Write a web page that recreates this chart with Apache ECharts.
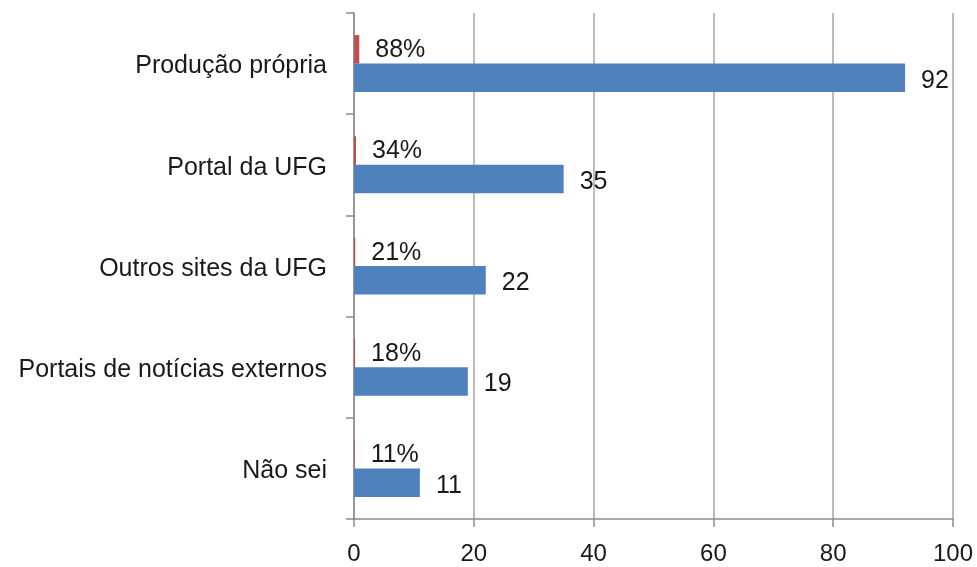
<!DOCTYPE html>
<html>
<head>
<meta charset="utf-8">
<script src="https://cdn.jsdelivr.net/npm/echarts@6/dist/echarts.min.js"></script>
<style>
  html, body { margin: 0; padding: 0; background: #fff; }
  #main { width: 977px; height: 567px; }
</style>
</head>
<body>
<div id="main"></div>
<script>
const categories = ['Produção própria', 'Portal da UFG', 'Outros sites da UFG', 'Portais de notícias externos', 'Não sei']
const shareValues = [0.88, 0.34, 0.21, 0.18, 0.11]
const shareLabels = ['88%', '34%', '21%', '18%', '11%']
const countValues = [92, 35, 22, 19, 11]

const chart = echarts.init(document.getElementById('main'))
const font = 'Liberation Sans, Arial, sans-serif'

chart.setOption({
  animation: false,
  grid: { left: 354, right: 24, top: 13, bottom: 48 },
  xAxis: {
    type: 'value',
    min: 0,
    max: 100,
    interval: 20,
    axisLine: { show: true, lineStyle: { color: '#8c8c8c', width: 1.5 } },
    axisTick: { show: true, length: 8, lineStyle: { color: '#8c8c8c', width: 1.5 } },
    axisLabel: { color: '#1a1a1a', fontSize: 24, fontFamily: font, margin: 23 },
    splitLine: { show: true, lineStyle: { color: '#a6a6a6', width: 1.5 } }
  },
  yAxis: {
    type: 'category',
    data: categories,
    inverse: true,
    axisLine: { show: true, lineStyle: { color: '#8c8c8c', width: 1.5 } },
    axisTick: { show: true, length: 8, lineStyle: { color: '#8c8c8c', width: 1.5 } },
    axisLabel: {
      margin: 27,
      formatter: v => '{c|' + v + '}',
      rich: { c: { color: '#1a1a1a', fontSize: 25, fontFamily: font, padding: [6, 0, 0, 0] } }
    }
  },
  series: [
    {
      type: 'bar',
      data: shareValues,
      barWidth: 28.5,
      barGap: '0%',
      itemStyle: { color: '#c0504d' },
      label: {
        show: true,
        position: 'right',
        distance: 16,
        offset: [0, 1],
        color: '#1a1a1a',
        fontSize: 25,
        fontFamily: font,
        formatter: p => shareLabels[p.dataIndex]
      }
    },
    {
      type: 'bar',
      data: countValues,
      barWidth: 28.5,
      barGap: '0%',
      itemStyle: { color: '#4f81bd' },
      label: {
        show: true,
        position: 'right',
        distance: 16,
        offset: [0, 3],
        color: '#1a1a1a',
        fontSize: 25,
        fontFamily: font
      }
    }
  ]
})
</script>
</body>
</html>
